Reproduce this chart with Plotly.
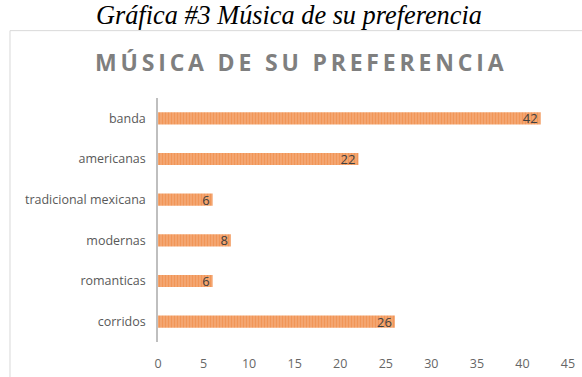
import plotly.graph_objects as go

categories = ["corridos", "romanticas", "modernas", "tradicional mexicana", "americanas", "banda"]
values = [26, 6, 8, 6, 22, 42]
x_ticks = [0, 5, 10, 15, 20, 25, 30, 35, 40, 45]

chart_title = "MÚSICA DE SU PREFERENCIA"
caption = "Gráfica #3 Música de su preferencia"

# spread the heading letters apart with thin spaces
spaced_title = "\u2009".join(chart_title)

label_font = "Open Sans, Noto Sans, sans-serif"

fig = go.Figure(
    go.Bar(
        y=categories,
        x=values,
        orientation="h",
        width=0.3,
        text=[str(v) for v in values],
        textposition="inside",
        insidetextanchor="end",
        textangle=0,
        constraintext="none",
        textfont=dict(family=label_font, size=13, color="#404040"),
        marker=dict(
            color="#F3A670",
            line=dict(width=0),
            pattern=dict(shape="|", fgcolor="#ED7D31", bgcolor="#F5AF7F", size=3, solidity=0.6),
        ),
        hoverinfo="skip",
    )
)

fig.update_layout(
    width=582,
    height=377,
    margin=dict(l=158, r=14, t=98, b=35),
    paper_bgcolor="white",
    plot_bgcolor="white",
    showlegend=False,
    xaxis=dict(
        range=[0, 45],
        tickvals=x_ticks,
        showgrid=False,
        zeroline=False,
        showline=False,
        ticks="",
        automargin=False,
        ticklabelstandoff=12,
        tickfont=dict(family=label_font, size=12.5, color="#666666"),
    ),
    yaxis=dict(
        range=[-0.5, 5.5],
        showgrid=False,
        zeroline=False,
        showline=True,
        linecolor="#BFBFBF",
        linewidth=1.5,
        ticks="",
        automargin=False,
        ticklabelstandoff=8,
        tickfont=dict(family=label_font, size=12.5, color="#595959"),
    ),
    shapes=[
        dict(
            type="rect", xref="paper", yref="paper",
            x0=-0.361, x1=1.2, y0=-0.5, y1=1.276,
            line=dict(color="#D9D9D9", width=1), fillcolor="rgba(0,0,0,0)", layer="below",
        )
    ],
    annotations=[
        dict(
            text="<i>" + caption + "</i>",
            xref="paper", yref="paper", x=(289 - 158) / 410, y=(342.4 - 15) / 244.8,
            xanchor="center", yanchor="middle", showarrow=False,
            font=dict(family="Liberation Serif, Times New Roman, serif", size=26.3, color="#000000"),
        ),
        dict(
            text=spaced_title,
            xref="paper", yref="paper", x=(299 - 158) / 410, y=(342.4 - 61) / 244.8,
            xanchor="center", yanchor="middle", showarrow=False,
            font=dict(family=label_font, size=23, weight=700, color="#7F7F7F"),
        ),
    ],
)

fig.write_html("out.html")
